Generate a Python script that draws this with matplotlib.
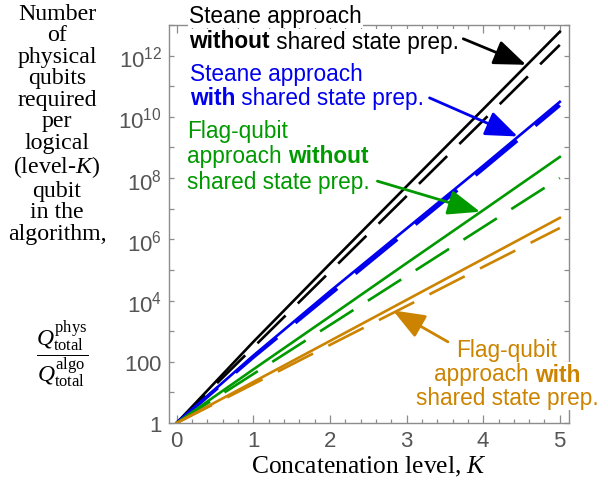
import numpy as np
import matplotlib
matplotlib.use("Agg")
import matplotlib.pyplot as plt
from matplotlib.ticker import FixedLocator, MultipleLocator, FuncFormatter

plt.rcParams['mathtext.fontset'] = 'custom'
plt.rcParams['mathtext.rm'] = 'Liberation Serif'
plt.rcParams['mathtext.it'] = 'Liberation Serif:italic'
plt.rcParams['mathtext.sf'] = 'Liberation Sans'
plt.rcParams['mathtext.bf'] = 'Liberation Sans:bold'

# ---- data (log10 of Q_phys/Q_algo at each concatenation level) ----
K = [0, 1, 2, 3, 4, 5]
steane_without = [0, 2.65, 5.2, 7.73, 10.25, 12.78]
steane_without_d = [0, 2.47, 4.94, 7.41, 9.88, 12.35]
steane_with = [0, 2.2, 4.3, 6.35, 8.4, 10.49]
steane_with_d = [0, 2.15, 4.2, 6.25, 8.3, 10.38]
flag_without = [0, 1.75, 3.48, 5.22, 6.95, 8.69]
flag_without_d = [0, 1.6, 3.2, 4.8, 6.4, 8.0]
flag_with = [0, 1.34, 2.68, 4.02, 5.36, 6.70]
flag_with_d = [0, 1.27, 2.55, 3.82, 5.1, 6.37]

black = '#000000'
blue = '#0000ee'
green = '#009900'
orange = '#cc8400'
frame = '#8c8c8c'
ticklab = '#555555'

W, H = 608, 485
fig = plt.figure(figsize=(W / 100, H / 100), dpi=100)
ax = fig.add_axes([169 / W, 1 - 424 / H, 400 / W, 398 / H])

dash = (0, (15, 6.5))
series = [
    (steane_without, steane_without_d, black, 1.9, 1.9),
    (steane_with, steane_with_d, blue, 1.9, 2.6),
    (flag_without, flag_without_d, green, 1.9, 1.9),
    (flag_with, flag_with_d, orange, 1.9, 1.9),
]
for solid, dashed, c, lw, lwd in series:
    ax.plot(K, 10.0 ** np.array(dashed), color=c, lw=lwd, ls=dash, solid_capstyle='butt')
    ax.plot(K, 10.0 ** np.array(solid), color=c, lw=lw)

ax.set_yscale('log')
ax.set_xlim(-0.1, 5.12)
ax.set_ylim(1, 1e13)

ax.yaxis.set_major_locator(FixedLocator([10.0 ** n for n in range(14)]))
ax.yaxis.set_minor_locator(FixedLocator([]))


def ylab(v, pos):
    n = int(round(np.log10(v)))
    if n == 0:
        return r'$\mathsf{1}$'
    if n == 2:
        return r'$\mathsf{100}$'
    if n % 2 == 0 and n <= 12:
        return r'$\mathsf{10^{%d}}$' % n
    return ''


ax.yaxis.set_major_formatter(FuncFormatter(ylab))
ax.xaxis.set_major_locator(MultipleLocator(1))
ax.xaxis.set_minor_locator(MultipleLocator(0.2))
ax.xaxis.set_major_formatter(FuncFormatter(lambda v, p: r'$\mathsf{%d}$' % v))

for s in ax.spines.values():
    s.set_color(frame)
    s.set_linewidth(1.0)
ax.tick_params(which='both', direction='in', top=True, right=True,
               color=frame, labelcolor=ticklab, labelsize=16, width=0.9)
ax.tick_params(axis='x', which='major', length=5.5, pad=5)
ax.tick_params(axis='x', which='minor', length=3)
ax.tick_params(axis='y', which='major', length=3.5, pad=5)

ax.set_xlabel('Concatenation level, $K$', family='Liberation Serif', fontsize=18.4, labelpad=3)

# y label as stacked words plus fraction
fig.text(57 / W, 1 - 4 / H,
         'Number\nof\nphysical\nqubits\nrequired\nper\nlogical\n(level-$K$)\nqubit\nin the\nalgorithm,',
         family='Liberation Serif', fontsize=17.2, ha='center', va='top', linespacing=1.03)
fig.text(62 / W, 1 - 355 / H, r'$\dfrac{Q_{\mathrm{total}}^{\mathrm{phys}}}{Q_{\mathrm{total}}^{\mathrm{algo}}}$',
         fontsize=17, ha='center', va='center')


def rich(x, y, parts, color):
    # parts: list of (text, bold) for one line; x,y in figure pixels
    prev = None
    artists = []
    for txt, bold in parts:
        kw = dict(color=color, fontsize=16.3, family='Liberation Sans',
                  fontweight='bold' if bold else 'normal', va='center',
                  bbox=dict(facecolor='white', edgecolor='none', pad=0.6))
        if prev is None:
            prev = fig.text(x / W, 1 - y / H, txt, ha='left', **kw)
        else:
            prev = ax.annotate(txt, xy=(1, 0.5), xycoords=prev, ha='left', **kw)
        artists.append(prev)
    return artists


def rich_center(xc, y, parts, color):
    arts = rich(0, y, parts, color)
    fig.canvas.draw()
    r = fig.canvas.get_renderer()
    x0 = arts[0].get_window_extent(r).x0
    x1 = arts[-1].get_window_extent(r).x1
    shift = xc - (x1 - x0) / 2.0
    arts[0].set_x(shift / W)


rich(189, 17, [('Steane approach', False)], black)
rich(189, 42, [('without', True), (' shared state prep.', False)], black)
rich(190, 75, [('Steane approach', False)], blue)
rich(190, 99, [('with', True), (' shared state prep.', False)], blue)
rich(187, 132, [('Flag-qubit', False)], green)
rich(187, 157, [('approach ', False), ('without', True)], green)
rich(187, 182, [('shared state prep.', False)], green)
rich_center(507, 351, [('Flag-qubit', False)], orange)
rich_center(507, 375, [('approach ', False), ('with', True)], orange)
rich_center(507, 399, [('shared state prep.', False)], orange)


def arrow(start, tip, color):
    ax.annotate('', xy=tip, xytext=start, xycoords='data', textcoords='data',
                annotation_clip=False,
                arrowprops=dict(arrowstyle='-|>,head_length=0.9,head_width=0.35',
                                color=color, lw=2.0, mutation_scale=22,
                                shrinkA=0, shrinkB=0))


arrow((3.74, 10 ** 12.55), (4.56, 10 ** 11.7), black)
arrow((3.3, 10 ** 10.62), (4.45, 10 ** 9.36), blue)
arrow((2.62, 10 ** 7.9), (3.96, 10 ** 6.9), green)
arrow((3.54, 10 ** 2.65), (2.82, 10 ** 3.68), orange)

fig.savefig('out.png', dpi=100)
